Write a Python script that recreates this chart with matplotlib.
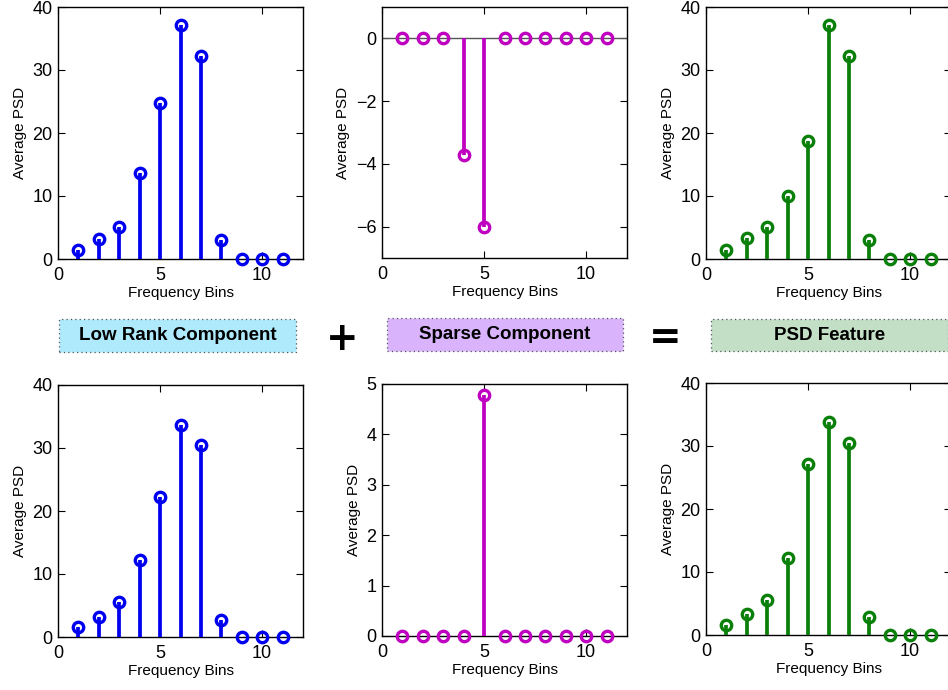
import matplotlib
matplotlib.use("Agg")
import matplotlib.pyplot as plt
from matplotlib.patches import Rectangle
import numpy as np

plt.rcParams['font.family'] = ['Liberation Sans', 'DejaVu Sans']

bins = [1, 2, 3, 4, 5, 6, 7, 8, 9, 10, 11]

low_rank_top = [1.48, 3.2, 5.1, 13.65, 24.8, 37.1, 32.2, 3.0, 0, 0, 0]
sparse_top = [0, 0, 0, -3.72, -6.01, 0, 0, 0, 0, 0, 0]
psd_top = [1.5, 3.3, 5.1, 9.95, 18.8, 37.1, 32.2, 3.0, 0, 0, 0]

low_rank_bot = [1.53, 3.17, 5.5, 12.17, 22.2, 33.7, 30.4, 2.75, 0, 0, 0]
sparse_bot = [0, 0, 0, 0, 4.78, 0, 0, 0, 0, 0, 0]
psd_bot = [1.59, 3.28, 5.56, 12.3, 27.1, 33.8, 30.5, 2.86, 0, 0, 0]

box_labels = ["Low Rank Component", "Sparse Component", "PSD Feature"]
operators = ["+", "="]

BLUE = "#0000f0"
MAG = "#c000c0"
GREEN = "#0a800a"

W, H = 948, 690
fig = plt.figure(figsize=(W / 100, H / 100), dpi=100)


def ax_at(left_px, top_px, bottom_px, width_px=245):
    return fig.add_axes([left_px / W, (H - bottom_px) / H, width_px / W, (bottom_px - top_px) / H])


def stem(ax, x, y, color, ylim, yticks, baseline=False):
    for xi, yi in zip(x, y):
        ax.plot([xi, xi], [0, yi], color=color, lw=2.7, solid_capstyle='butt', zorder=3)
    ax.plot(x, y, 'o', mfc='none', mec=color, mew=2.4, ms=7.5, zorder=4, clip_on=False)
    if baseline:
        ax.axhline(0, color='#555555', lw=1.0, zorder=2)
    ax.set_xlim(0, 12)
    ax.set_ylim(*ylim)
    ax.set_xticks([0, 5, 10])
    ax.set_yticks(yticks)
    ax.tick_params(direction='in', top=True, right=True, length=5, width=0.8,
                   labelsize=13, pad=4)
    ax.tick_params(axis='x', pad=6)
    ax.set_xlabel("Frequency Bins", fontsize=11, labelpad=1)
    ax.set_ylabel("Average PSD", fontsize=11, labelpad=4)
    for s in ax.spines.values():
        s.set_linewidth(1.0)


# top row
a = ax_at(58, 7, 259)
stem(a, bins, low_rank_top, BLUE, (0, 40), [0, 10, 20, 30, 40])
a = ax_at(382, 7, 258)
stem(a, bins, sparse_top, MAG, (-7, 1), [-6, -4, -2, 0], baseline=True)
a = ax_at(706, 7, 259)
stem(a, bins, psd_top, GREEN, (0, 40), [0, 10, 20, 30, 40])

# bottom row
a = ax_at(58, 385, 637)
stem(a, bins, low_rank_bot, BLUE, (0, 40), [0, 10, 20, 30, 40])
a = ax_at(382, 384, 636)
stem(a, bins, sparse_bot, MAG, (0, 5), [0, 1, 2, 3, 4, 5])
a = ax_at(706, 383, 635)
stem(a, bins, psd_bot, GREEN, (0, 40), [0, 10, 20, 30, 40])

# component boxes
boxes = [(59, 319, 237, 33, "#aeeafc"), (387, 318, 236, 33, "#d9b4fc"), (711, 319, 237, 32, "#c3dfc6")]
for (x0, y0, w, h, c), lab in zip(boxes, box_labels):
    r = Rectangle((x0 / W, (H - y0 - h) / H), w / W, h / H, transform=fig.transFigure,
                  facecolor=c, edgecolor='#555555', lw=0.9, linestyle=(0, (1, 2.5)))
    fig.patches.append(r)
    fig.text((x0 + w / 2) / W, (H - y0 - h / 2) / H, lab, ha='center', va='center',
             fontsize=13.5, fontweight='bold', color='black')

fig.text(342 / W, (H - 339) / H, operators[0], ha='center', va='center', fontsize=28,
         fontweight='heavy', family='DejaVu Sans')
fig.text(665 / W, (H - 338) / H, operators[1], ha='center', va='center', fontsize=28,
         fontweight='heavy', family='DejaVu Sans')

fig.savefig("out.png", dpi=100)
